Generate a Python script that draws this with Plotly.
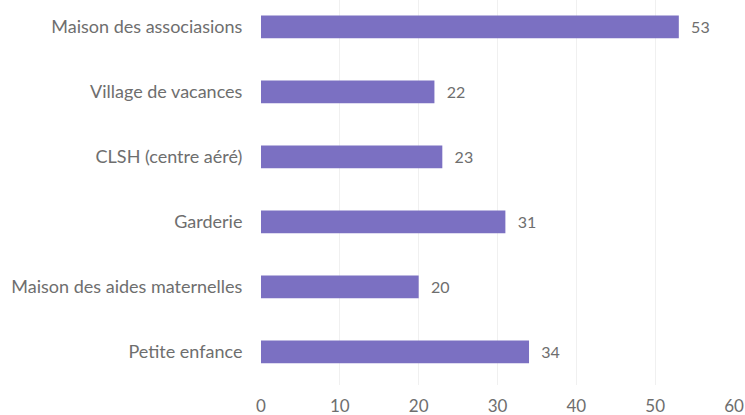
import plotly.graph_objects as go

categories = ["Petite enfance", "Maison des aides maternelles", "Garderie",
              "CLSH (centre aéré)", "Village de vacances", "Maison des associasions"]
values = [34, 20, 31, 23, 22, 53]
x_ticks = [0, 10, 20, 30, 40, 50, 60]

font_family = "Lato, 'Open Sans', sans-serif"
grey = "#6e6e6e"

fig = go.Figure(go.Bar(
    y=categories, x=values, orientation="h",
    marker=dict(color="#7b70c2", line=dict(width=0)),
    text=[f"\u2007{v}" for v in values], textposition="outside",
    textfont=dict(family=font_family, size=16, color=grey),
    cliponaxis=False, width=0.35, hoverinfo="skip",
))

fig.update_layout(
    width=745, height=415,
    margin=dict(l=261, r=11, t=0, b=30, autoexpand=False),
    paper_bgcolor="white", plot_bgcolor="white",
    showlegend=False,
    xaxis=dict(range=[0, 60], tickvals=x_ticks, showgrid=True, gridcolor="#f0f0f0",
               gridwidth=1, zeroline=False, showline=False, automargin=False,
               ticks="outside", ticklen=6, tickcolor="rgba(0,0,0,0)",
               tickfont=dict(family=font_family, size=17, color=grey)),
    yaxis=dict(range=[-0.508, 5.415], showgrid=False, zeroline=False, showline=False,
               automargin=False,
               ticks="outside", ticklen=14, tickcolor="rgba(0,0,0,0)",
               tickfont=dict(family=font_family, size=18, color=grey)),
)

fig.write_html("out.html", config={"displayModeBar": False},
               post_script="document.body.style.margin='0';document.body.style.overflow='hidden';")
